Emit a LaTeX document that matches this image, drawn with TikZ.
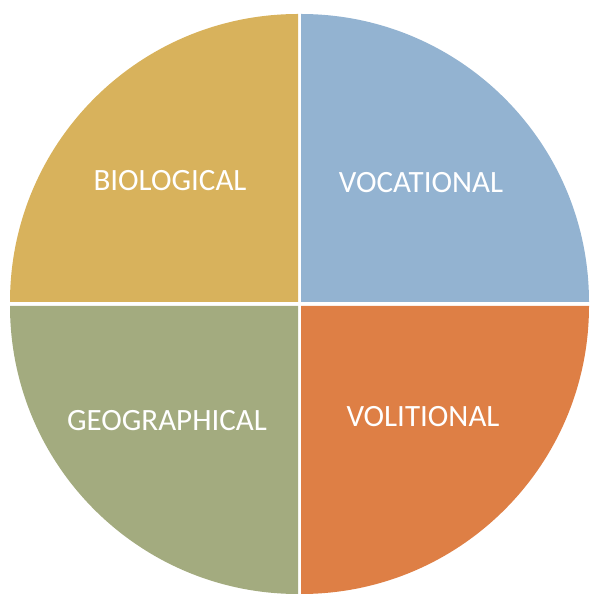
\documentclass[tikz,border=0pt]{standalone}
\usepackage{fontspec}
\setmainfont{Carlito}
\usetikzlibrary{positioning}
\definecolor{bioYellow}{HTML}{D8B25C}
\definecolor{vocBlue}{HTML}{93B3D1}
\definecolor{geoGreen}{HTML}{A3AB7F}
\definecolor{volOrange}{HTML}{DE7F45}

\begin{document}
\begin{tikzpicture}[
                    % GLOBAL CFG
                    x=1pt, y=1pt,
                    font=\fontsize{31}{36}\selectfont,
                    % Styles
                    quarter/.style={% For the four slices
                            draw=none,
                        },
                    slabel/.style={% For the slice labels
                            text=white,
                            inner sep=0pt,
                        },
                ]

                % Fix the page size
                \useasboundingbox (0,0) rectangle (589,594);

                % Draw the slices
                \fill [quarter, bioYellow] (298,292) -- +(180:288) arc[start angle=180, end angle=90, radius=288] -- cycle;
                \fill [quarter, vocBlue] (301,292) -- +(90:288) arc[start angle=90, end angle=0, radius=288] -- cycle;
                \fill [quarter, geoGreen] (298,288) -- +(270:288) arc[start angle=270, end angle=180, radius=288] -- cycle;
                \fill [quarter, volOrange] (301,288) -- +(0:288) arc[start angle=0, end angle=-90, radius=288] -- cycle;

                % Draw the labels
                \node [slabel] (bio) at (170,413) {BIOLOGICAL};
                \node [slabel] (voc) at (421,411) {VOCATIONAL};
                \node [slabel] (geo) at (167,173) {GEOGRAPHICAL};
                \node [slabel] (vol) at (423,177) {VOLITIONAL};

            \end{tikzpicture}
\end{document}
